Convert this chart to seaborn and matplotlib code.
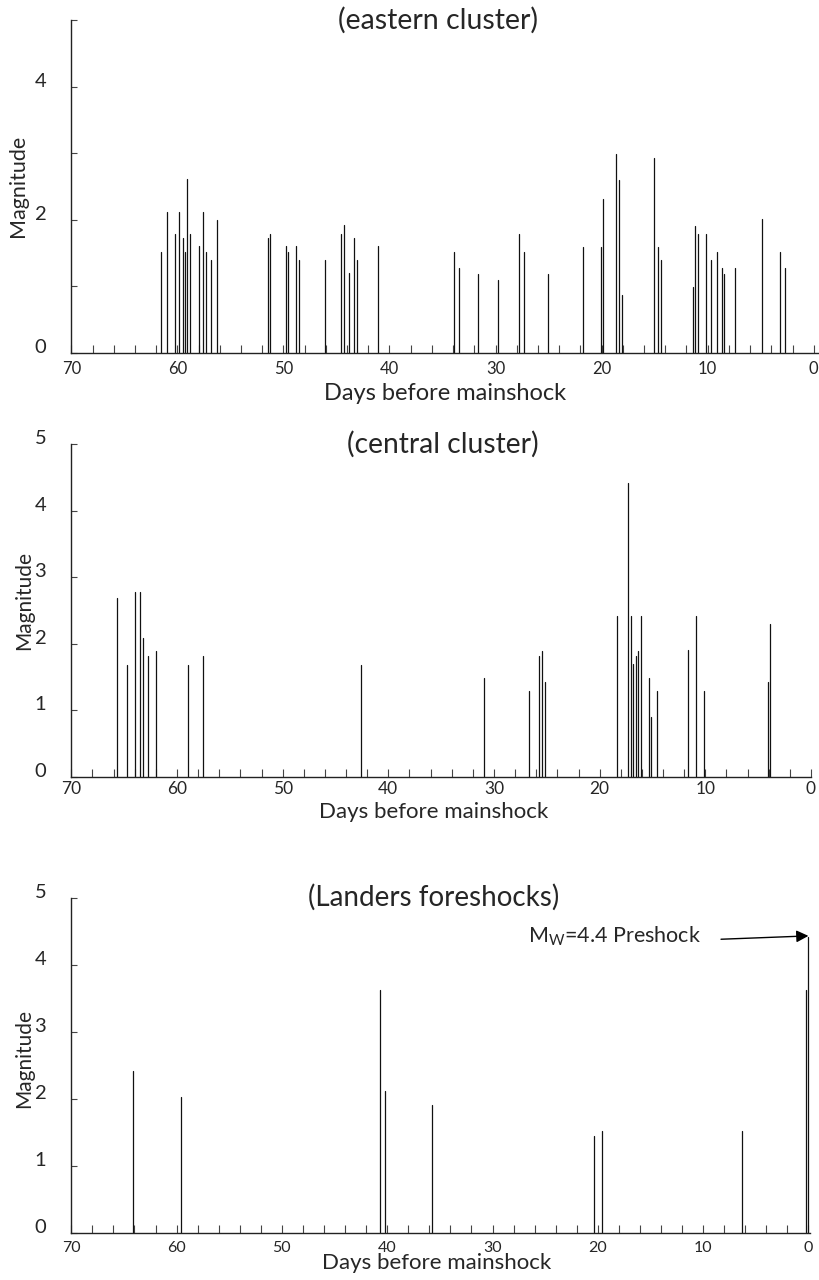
import numpy as np
import pandas as pd
import matplotlib
matplotlib.use("Agg")
import matplotlib.pyplot as plt
import matplotlib.transforms as mtransforms
import seaborn as sns

# ---------------- data (days before mainshock, magnitude) ----------------
east_days = [61.5, 61.0, 60.26, 59.8, 59.5, 59.3, 59.05, 58.8, 58.0, 57.55,
             57.3, 56.8, 56.3, 51.5, 51.3, 49.8, 49.55, 48.8, 48.56, 46.06,
             44.56, 44.3, 43.8, 43.3, 43.06, 41.06, 33.9, 33.4, 31.7, 29.77,
             27.8, 27.3, 25.06, 21.8, 20.1, 19.87, 18.6, 18.34, 18.1, 15.1,
             14.64, 14.36, 11.4, 11.17, 10.9, 10.17, 9.67, 9.14, 8.67, 8.42,
             7.4, 4.9, 3.15, 2.68]
east_mag = [1.52, 2.12, 1.79, 2.12, 1.72, 1.52, 2.61, 1.79, 1.6, 2.12,
            1.52, 1.4, 2.0, 1.72, 1.79, 1.6, 1.52, 1.6, 1.4, 1.4,
            1.79, 1.92, 1.2, 1.72, 1.4, 1.6, 1.51, 1.28, 1.19, 1.1,
            1.78, 1.51, 1.19, 1.59, 1.59, 2.31, 2.99, 2.6, 0.87, 2.93,
            1.59, 1.39, 0.99, 1.91, 1.79, 1.79, 1.39, 1.51, 1.28, 1.19,
            1.28, 2.01, 1.52, 1.28]

central_days = [65.7, 64.76, 63.98, 63.5, 63.26, 62.7, 61.98, 59.0, 57.5, 42.56,
                30.9, 26.7, 25.7, 25.46, 25.2, 18.35, 17.3, 17.06, 16.8, 16.57,
                16.35, 16.1, 15.35, 15.1, 14.6, 11.67, 10.85, 10.1, 4.1, 3.86]
central_mag = [2.68, 1.68, 2.77, 2.77, 2.09, 1.81, 1.89, 1.68, 1.81, 1.68,
               1.49, 1.29, 1.82, 1.89, 1.42, 2.42, 4.41, 2.42, 1.69, 1.82,
               1.89, 2.42, 1.49, 0.9, 1.29, 1.91, 2.42, 1.29, 1.42, 2.29]

landers_days = [64.1, 59.6, 40.66, 40.2, 35.7, 20.4, 19.6, 6.3, 0.2, 0.0]
landers_mag = [2.42, 2.02, 3.62, 2.12, 1.91, 1.45, 1.52, 1.52, 3.62, 4.41]

x_major = [70, 60, 50, 40, 30, 20, 10, 0]
x_minor = list(range(0, 71, 2))
y_ticks = [0, 1, 2, 3, 4, 5]
east_ylabels = ["0", "", "2", "", "4", ""]
full_ylabels = ["0", "1", "2", "3", "4", "5"]

titles = ["(eastern cluster)", "(central cluster)", "(Landers foreshocks)"]
xlabel_text = "Days before mainshock"
ylabel_text = "Magnitude"
preshock_text = r"M$_\mathregular{W}$=4.4 Preshock"
preshock_day, preshock_mag = 0.0, 4.41

# ---------------- style ----------------
sns.set_theme(style="ticks")
plt.rcParams["font.family"] = ["Lato", "DejaVu Sans"]
plt.rcParams["mathtext.fontset"] = "custom"
FAM = ["Lato", "DejaVu Sans"]

W, H = 819, 1280
fig = plt.figure(figsize=(W / 100, H / 100), dpi=100)


def px_axes(left, top, right, bottom):
    return fig.add_axes([left / W, 1 - bottom / H, (right - left) / W, (bottom - top) / H])


def stems(days, mags):
    n = len(days)
    return pd.DataFrame({
        "day": np.repeat(np.asarray(days, float), 2),
        "mag": np.column_stack([np.zeros(n), np.asarray(mags, float)]).ravel(),
        "event": np.repeat(np.arange(n), 2),
    })


def draw(ax, days, mags):
    sns.lineplot(data=stems(days, mags), x="day", y="mag", units="event",
                 estimator=None, sort=False, color="#111111", lw=0.9,
                 legend=False, ax=ax)


def style(ax, xlim, ylabels, title, title_x, title_fs, tick_fs, xpad,
          xl_pos, yl_pos, lab_fs, ylab_fs):
    ax.set_xlim(*xlim)
    ax.set_ylim(0, 5)
    sns.despine(ax=ax)
    for s in ("left", "bottom"):
        ax.spines[s].set_linewidth(1.0)
        ax.spines[s].set_color("#222222")
    ax.set_xticks(x_major)
    ax.set_xticks(x_minor, minor=True)
    ax.set_xticklabels([str(v) for v in x_major], fontsize=tick_fs, family=FAM)
    ax.set_yticks(y_ticks)
    ax.set_yticklabels(ylabels, fontsize=14.5, family=FAM)
    ax.tick_params(axis="x", which="both", direction="in", length=5.5,
                   width=0.8, color="#444444", pad=xpad)
    ax.tick_params(axis="y", direction="in", length=4.3, width=0.8,
                   color="#444444", pad=18)
    off = mtransforms.ScaledTranslation(0, 7 / 100, fig.dpi_scale_trans)
    for lab in ax.get_yticklabels():
        lab.set_transform(lab.get_transform() + off)
    ax.set_xlabel(xlabel_text, fontsize=lab_fs, family=FAM)
    ax.xaxis.set_label_coords(*xl_pos)
    ax.xaxis.label.set_va("top")
    ax.set_ylabel(ylabel_text, fontsize=ylab_fs, family=FAM)
    ax.yaxis.set_label_coords(*yl_pos)
    ax.yaxis.label.set_va("center")
    ax.text(title_x, 1.0, title, transform=ax.transAxes, ha="center",
            va="center", fontsize=title_fs, family=FAM)
    ax.grid(False)


# panel 1: eastern cluster
ax1 = px_axes(71.3, 20, 818, 352.7)
draw(ax1, east_days, east_mag)
style(ax1, (70, -0.4), east_ylabels, titles[0], 0.491, 20.5,
      12, 6.0, (0.5, -0.09), (-0.072, 0.5), 17, 15.5)

# panel 2: central cluster
ax2 = px_axes(71.3, 444, 811, 776.7)
draw(ax2, central_days, central_mag)
style(ax2, (70, 0), full_ylabels, titles[1], 0.502, 20.3,
      12.5, 3.0, (0.49, -0.075), (-0.064, 0.53), 16, 15)

# panel 3: Landers foreshocks
ax3 = px_axes(71.3, 897.7, 810, 1232.7)
draw(ax3, landers_days, landers_mag)
style(ax3, (70, -0.15), full_ylabels, titles[2], 0.49, 20,
      11.5, 6.0, (0.495, -0.062), (-0.064, 0.52), 16, 15)
ax3.annotate("", xy=(preshock_day, preshock_mag + 0.02), xytext=(8.3, 4.38),
             arrowprops=dict(arrowstyle="-|>", color="black", lw=1.0,
                             mutation_scale=18, shrinkA=0, shrinkB=0))
ax3.text(26.6, 4.42, preshock_text, ha="left", va="center", fontsize=15.5,
         family=FAM)

fig.savefig("out.png", dpi=100)
